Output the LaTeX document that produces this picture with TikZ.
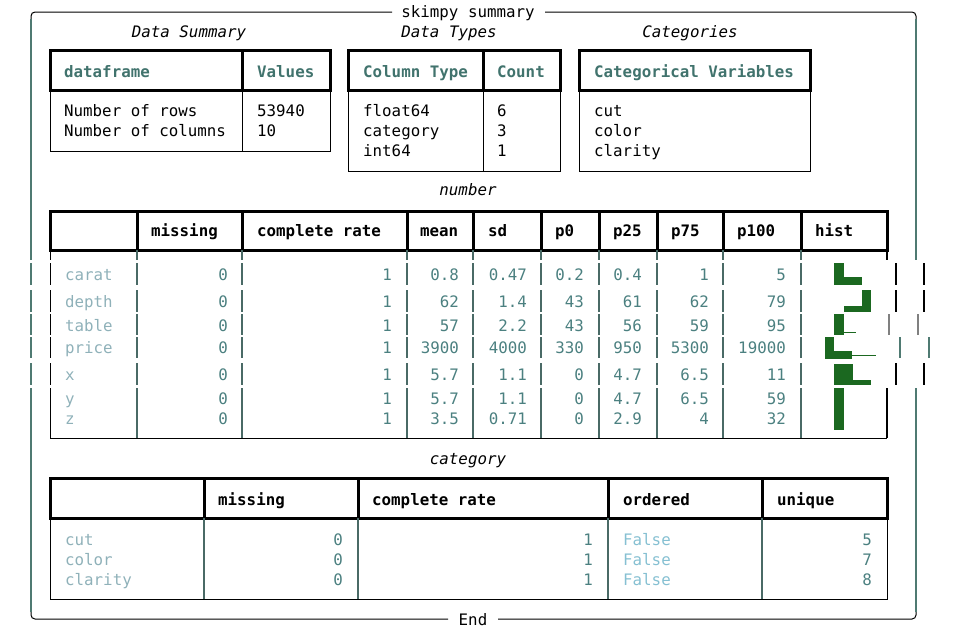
\documentclass[tikz,border=0pt]{standalone}
\usepackage{fontspec}
\setmonofont{DejaVu Sans Mono}
\definecolor{hdrteal}{HTML}{41736D}
\definecolor{valteal}{HTML}{4B8080}
\definecolor{lblgray}{HTML}{8FB1B9}
\definecolor{falseblue}{HTML}{86C0D2}
\definecolor{framegray}{HTML}{4F7A72}
\definecolor{gridgray}{HTML}{4A6A66}
\definecolor{histgreen}{RGB}{27,104,32}
\tikzset{
  txt/.style={inner sep=0pt,font=\fontsize{15.8}{20}\selectfont\ttfamily},
  cell/.style={txt,anchor=base west},
  num/.style={txt,anchor=base east,text=valteal},
  head/.style={cell,font=\fontsize{15.8}{20}\selectfont\ttfamily\bfseries},
  caption/.style={txt,anchor=base,font=\fontsize{15.8}{20}\selectfont\ttfamily\itshape},
  boxhead/.style={line width=3pt},
  boxbody/.style={line width=1pt},
  bar/.style={fill=histgreen}
}
\begin{document}
\begin{tikzpicture}[x=1pt,y=-1pt]
  \useasboundingbox (0,0) rectangle (955,633);
  % Frame
  \draw[line width=1pt,rounded corners=4pt] (392,12) -- (31,12) -- (31,20);
  \draw[line width=1pt,rounded corners=4pt] (545,12) -- (916,12) -- (916,20);
  \draw[line width=1pt,rounded corners=4pt] (31,611) -- (31,619) -- (448,619);
  \draw[line width=1pt,rounded corners=4pt] (916,611) -- (916,619) -- (498,619);
  \draw[framegray,line width=1.5pt] (31,19) -- (31,250) (31,438) -- (31,612);
  \draw[framegray,line width=1.5pt] (916,19) -- (916,250) (916,438) -- (916,612);
  \node[txt,anchor=base] (title) at (468,17) {skimpy summary};
  \node[txt,anchor=base] (end) at (473,625) {End};

  % Data Summary
  \node[caption] (dscap) at (189,37) {Data Summary};
  \draw[boxhead] (50,50) rectangle (330,90) (242,50) -- (242,90);
  \draw[boxbody] (50,90) -- (50,151) -- (330,151) -- (330,90) (242,90) -- (242,151);
  \node[head,text=hdrteal] (dshead1) at (64,77) {dataframe};
  \node[head,text=hdrteal] (dshead2) at (257,77) {Values};
  \node[cell] (dsrows) at (64,116) {Number of rows};
  \node[cell] (dscols) at (64,136) {Number of columns};
  \node[cell] (dsnrows) at (257,116) {53940};
  \node[cell] (dsncols) at (257,136) {10};

  % Data Types
  \node[caption] (dtcap) at (449,37) {Data Types};
  \draw[boxhead] (348,50) rectangle (560,90) (483,50) -- (483,90);
  \draw[boxbody] (348,90) -- (348,171) -- (560,171) -- (560,90) (483,90) -- (483,171);
  \node[head,text=hdrteal] (dthead1) at (363,77) {Column Type};
  \node[head,text=hdrteal] (dthead2) at (497,77) {Count};
  \foreach \y/\t/\n in {116/float64/6,136/category/3,156/int64/1} {
    \node[cell] (dt-\t) at (363,\y) {\t};
    \node[cell] (dtn-\t) at (497,\y) {\n};
  }

  % Categories
  \node[caption] (catcap) at (690,37) {Categories};
  \draw[boxhead] (579,50) rectangle (810,90);
  \draw[boxbody] (579,90) -- (579,171) -- (810,171) -- (810,90);
  \node[head,text=hdrteal] (cathead) at (594,77) {Categorical Variables};
  \foreach \y/\t in {116/cut,136/color,156/clarity}
    \node[cell] (cat-\t) at (594,\y) {\t};

  % number table
  \node[caption] (numcap) at (468,195) {number};
  \draw[boxhead] (50,211) rectangle (887,250);
  \foreach \x in {137,242,407,473,541,599,657,723,801}
    \draw[boxhead] (\x,211) -- (\x,250);
  \foreach \x/\h [count=\k] in {151/missing,257/complete rate,420/mean,488/sd,555/p0,613/p25,671/p75,737/p100,815/hist}
    \node[head] (numhead\k) at (\x,236) {\h};
  % body lines, broken row by row
  \foreach \ya/\yb/\xr/\xf/\cr/\cf in {250/260/887/916/black/framegray,263/285/896/924/black/black,290/312/896/924/black/black,314/335/889/918/gray/gray,337/358/900/929/framegray/framegray,363/385/896/924/black/black,388/438/887/916/black/framegray} {
    \draw[framegray,line width=1.5pt] (31,\ya) -- (31,\yb);
    \draw[boxbody] (50,\ya) -- (50,\yb);
    \foreach \x in {137,242,407,473,541,599,657,723,801}
      \draw[gridgray,line width=1.2pt] (\x,\ya) -- (\x,\yb);
    \draw[\cr,line width=1.2pt] (\xr,\ya) -- (\xr,\yb);
    \draw[\cf,line width=1.5pt] (\xf,\ya) -- (\xf,\yb);
  }
  \draw[boxbody] (50,438.5) -- (887,438.5);
  \foreach \y/\lab/\mn/\sd/\pz/\pq/\pt/\ph in {280/carat/0.8/0.47/0.2/0.4/1/5,307/depth/62/1.4/43/61/62/79,331/table/57/2.2/43/56/59/95,353/price/3900/4000/330/950/5300/19000,380/x/5.7/1.1/0/4.7/6.5/11,404/y/5.7/1.1/0/4.7/6.5/59,424/z/3.5/0.71/0/2.9/4/32} {
    \node[cell,text=lblgray] (lab-\lab) at (65,\y) {\lab};
    \node[num] (miss-\lab) at (228,\y) {0};
    \node[num] (rate-\lab) at (392,\y) {1};
    \node[num] (mean-\lab) at (459,\y) {\mn};
    \node[num] (sd-\lab) at (527,\y) {\sd};
    \node[num] (pz-\lab) at (584,\y) {\pz};
    \node[num] (pq-\lab) at (642,\y) {\pq};
    \node[num] (pt-\lab) at (709,\y) {\pt};
    \node[num] (ph-\lab) at (786,\y) {\ph};
  }
  % hist bars
  \foreach \xa/\ya/\xb/\yb in {834/263/844/285,844/277/862/285,862/290/871/312,844/306/862/312,834/314/844/335,844/331.5/856/333,825/337/834/359,834/351/852/359,852/354.5/876/356,834/364/853/385,853/380/871/385,834/388/844/430}
    \fill[histgreen] (\xa,\ya) rectangle (\xb,\yb);

  % category table
  \node[caption] (catgcap) at (468,464) {category};
  \draw[boxhead] (50,478) rectangle (887,518);
  \foreach \x in {204,358,608,762}
    \draw[boxhead] (\x,478) -- (\x,518);
  \foreach \x/\h [count=\k] in {218/missing,372/complete rate,623/ordered,777/unique}
    \node[head] (cathead\k) at (\x,505) {\h};
  \draw[boxbody] (50,518) -- (50,599) -- (887,599) -- (887,518);
  \foreach \x in {204,358,608,762}
    \draw[gridgray,line width=1.2pt] (\x,518) -- (\x,599);
  \foreach \y/\lab/\u in {545/cut/5,565/color/7,585/clarity/8} {
    \node[cell,text=lblgray] (clab-\lab) at (65,\y) {\lab};
    \node[num] (cmiss-\lab) at (343,\y) {0};
    \node[num] (crate-\lab) at (593,\y) {1};
    \node[cell,text=falseblue] (cord-\lab) at (623,\y) {False};
    \node[num] (cuniq-\lab) at (872,\y) {\u};
  }
\end{tikzpicture}
\end{document}
